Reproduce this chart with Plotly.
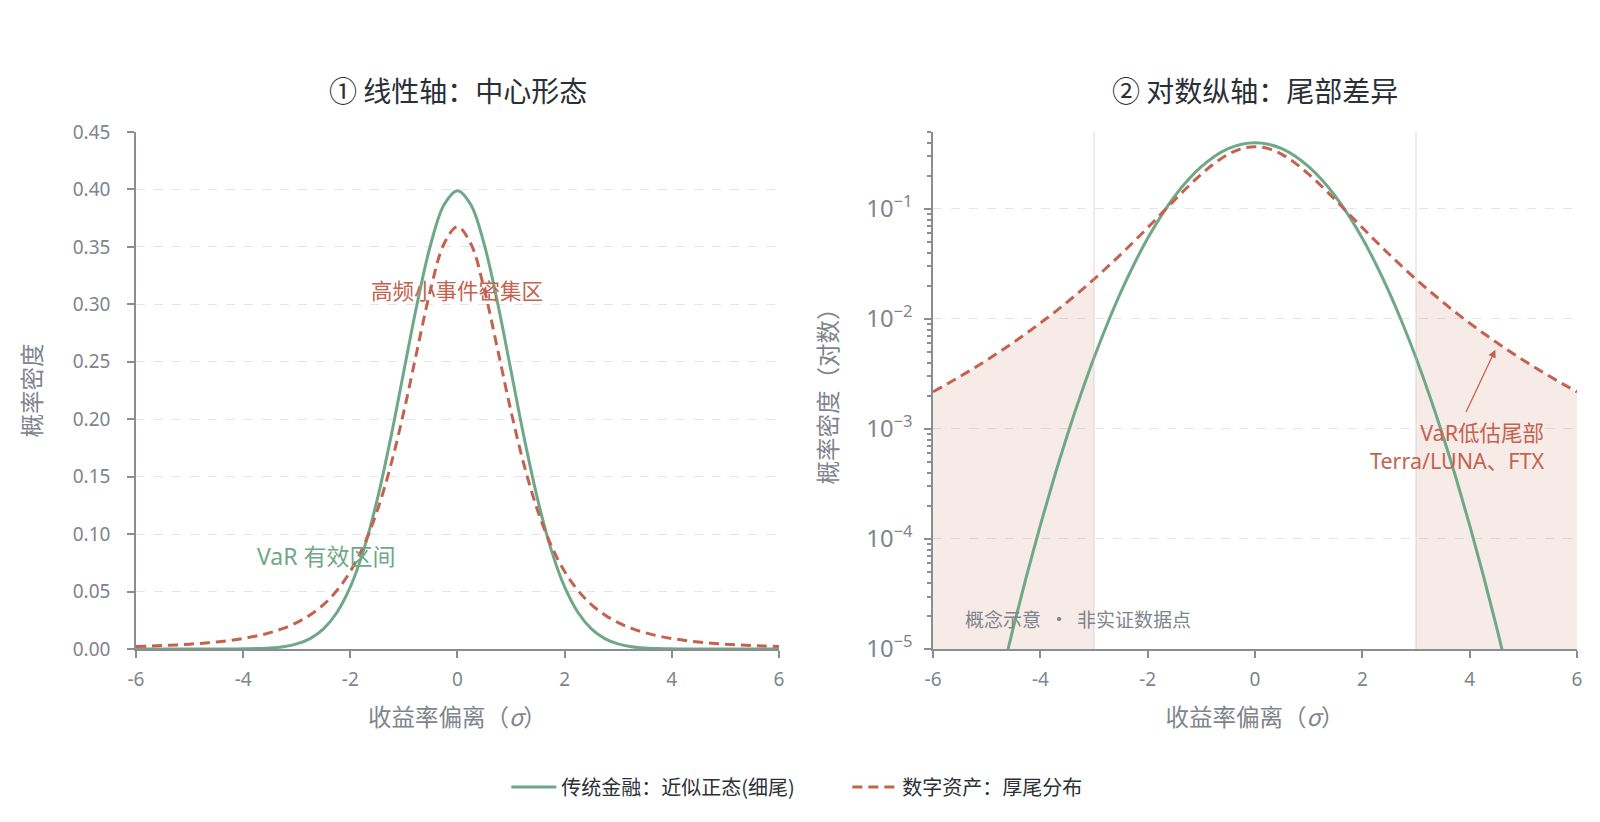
import plotly.graph_objects as go

# return deviation grid (sigma units)
x_sigma = [-6.0, -5.75, -5.5, -5.25, -5.0, -4.75, -4.5, -4.25, -4.0, -3.75, -3.5, -3.25,
           -3.0, -2.75, -2.5, -2.25, -2.0, -1.75, -1.5, -1.25, -1.0, -0.75, -0.5, -0.25,
           0.0, 0.25, 0.5, 0.75, 1.0, 1.25, 1.5, 1.75, 2.0, 2.25, 2.5, 2.75,
           3.0, 3.25, 3.5, 3.75, 4.0, 4.25, 4.5, 4.75, 5.0, 5.25, 5.5, 5.75, 6.0]

# traditional finance: near-normal density (thin tails)
dens_trad = [6.08e-9, 2.64e-8, 1.077e-7, 4.13e-7, 1.487e-6, 5.03e-6, 1.598e-5, 4.771e-5,
             1.3383e-4, 3.526e-4, 8.727e-4, 2.029e-3, 4.432e-3, 9.094e-3, 0.01753, 0.03174,
             0.05399, 0.08628, 0.12952, 0.18265, 0.24197, 0.30114, 0.35207, 0.38667,
             0.39894,
             0.38667, 0.35207, 0.30114, 0.24197, 0.18265, 0.12952, 0.08628, 0.05399,
             0.03174, 0.01753, 9.094e-3, 4.432e-3, 2.029e-3, 8.727e-4, 3.526e-4, 1.3383e-4,
             4.771e-5, 1.598e-5, 5.03e-6, 1.487e-6, 4.13e-7, 1.077e-7, 2.64e-8, 6.08e-9]

# digital assets: fat-tailed density
dens_crypto = [0.002175, 0.002544, 0.002992, 0.003542, 0.004219, 0.005062, 0.006120, 0.007457,
               0.009163, 0.01136, 0.01422, 0.01798, 0.02297, 0.02965, 0.03866, 0.05089,
               0.06751, 0.09000, 0.12002, 0.15891, 0.20675, 0.26064, 0.31318, 0.35270,
               0.36755,
               0.35270, 0.31318, 0.26064, 0.20675, 0.15891, 0.12002, 0.09000, 0.06751,
               0.05089, 0.03866, 0.02965, 0.02297, 0.01798, 0.01422, 0.01136, 0.009163,
               0.007457, 0.006120, 0.005062, 0.004219, 0.003542, 0.002992, 0.002544, 0.002175]

x_ticks = [-6, -4, -2, 0, 2, 4, 6]
x_tick_text = ["-6", "-4", "-2", "0", "2", "4", "6"]
lin_ticks = [0.0, 0.05, 0.10, 0.15, 0.20, 0.25, 0.30, 0.35, 0.40, 0.45]
lin_tick_text = ["0.00", "0.05", "0.10", "0.15", "0.20", "0.25", "0.30", "0.35", "0.40", "0.45"]
tail_cut = 3.0

GREEN = "#6fa887"
RED = "#c3634f"
GRAY = "#80848c"
DARK = "#2b2f36"
FONT = "Noto Sans, Noto Sans CJK SC"
CJK = "Noto Sans CJK SC"

fig = go.Figure()

# shaded tails (right panel)
left_tail = [(x, y) for x, y in zip(x_sigma, dens_crypto) if x <= -tail_cut]
right_tail = [(x, y) for x, y in zip(x_sigma, dens_crypto) if x >= tail_cut]
for tail in (left_tail, right_tail):
    fig.add_trace(go.Scatter(
        x=[p[0] for p in tail], y=[p[1] for p in tail],
        mode="lines", line=dict(width=0, shape="spline"),
        fill="tozeroy", fillcolor="rgba(195,99,79,0.13)",
        xaxis="x2", yaxis="y2", showlegend=False, hoverinfo="skip"))

# curves on both panels
for xa, ya, show in (("x", "y", True), ("x2", "y2", False)):
    fig.add_trace(go.Scatter(
        x=x_sigma, y=dens_trad, mode="lines",
        line=dict(color=GREEN, width=3, shape="spline"),
        name="传统金融：近似正态(细尾)", xaxis=xa, yaxis=ya,
        showlegend=show, legendgroup="trad"))
    fig.add_trace(go.Scatter(
        x=x_sigma, y=dens_crypto, mode="lines",
        line=dict(color=RED, width=3, dash="10px,6px", shape="spline"),
        name="数字资产：厚尾分布", xaxis=xa, yaxis=ya,
        showlegend=show, legendgroup="crypto"))

axis_common = dict(
    showline=True, linecolor="#8a8d93", linewidth=1.5,
    ticks="outside", ticklen=7, tickwidth=1.5, tickcolor="#8a8d93",
    tickfont=dict(family=FONT, size=19, color=GRAY),
    zeroline=False, mirror=False, automargin=False,
)
x_title = dict(text="收益率偏离（<i>σ</i>）", font=dict(family=CJK, size=23.5, color=GRAY), standoff=19)

# page body keeps an 8px margin, so the figure is sized to fit the window
fig.update_layout(
    width=1584, height=806,
    paper_bgcolor="white", plot_bgcolor="white",
    margin=dict(l=0, r=0, t=0, b=0),
    font=dict(family=FONT, color=GRAY),
    xaxis=dict(domain=[0.0808, 0.4867], range=[-6, 6], tickvals=x_ticks, ticktext=x_tick_text,
               showgrid=False, anchor="y", title=x_title, ticklabelstandoff=5, **axis_common),
    yaxis=dict(domain=[0.2047, 0.8462], range=[0, 0.45], tickvals=lin_ticks, ticktext=lin_tick_text,
               showgrid=True, gridcolor="#e3e5e8", griddash="dash", gridwidth=1, anchor="x",
               ticklabelstandoff=13,
               title=dict(text="概率密度", font=dict(family=CJK, size=23.5, color=GRAY), standoff=25),
               **axis_common),
    xaxis2=dict(domain=[0.584, 0.9905], range=[-6, 6], tickvals=x_ticks, ticktext=x_tick_text,
                showgrid=False, anchor="y2", title=x_title, ticklabelstandoff=5, **axis_common),
    yaxis2=dict(domain=[0.2047, 0.8462], type="log", range=[-5, -0.301], dtick=1,
                exponentformat="power", ticklabelstandoff=8,
                minor=dict(ticks="outside", ticklen=4, tickcolor="#8a8d93", showgrid=False),
                showgrid=True, gridcolor="#e3e5e8", griddash="dash", gridwidth=1, anchor="x2",
                title=dict(text="概率密度（对数）", font=dict(family=CJK, size=23.5, color=GRAY), standoff=22),
                **axis_common),
    legend=dict(orientation="h", x=0.3146, xanchor="left", y=0.0335, yanchor="middle",
                font=dict(family=CJK, size=20, color=DARK), itemwidth=45,
                entrywidth=281, entrywidthmode="pixels",
                bgcolor="rgba(0,0,0,0)"),
)

# tail boundary lines
for xv in (-tail_cut, tail_cut):
    fig.add_shape(type="line", xref="x2", yref="y2 domain", x0=xv, x1=xv, y0=0, y1=1,
                  line=dict(color="rgba(200,185,185,0.45)", width=1.2))

# panel titles
fig.add_annotation(text="① 线性轴：中心形态", xref="paper", yref="paper", x=0.2838, y=0.8983,
                   xanchor="center", yanchor="middle", showarrow=False,
                   font=dict(family=CJK, size=28, color=DARK))
fig.add_annotation(text="② 对数纵轴：尾部差异", xref="paper", yref="paper", x=0.7873, y=0.8983,
                   xanchor="center", yanchor="middle", showarrow=False,
                   font=dict(family=CJK, size=28, color=DARK))

# left panel notes
fig.add_annotation(text="高频小事件密集区", xref="x", yref="y", x=0, y=0.313,
                   showarrow=False, font=dict(family=CJK, size=21.5, color=RED))
fig.add_annotation(text="VaR 有效区间", xref="x", yref="y", x=-2.45, y=0.081,
                   showarrow=False, font=dict(family=FONT, size=23, color=GREEN))

# right panel notes (log axis: annotation y in log10 units)
fig.add_annotation(x=4.48, y=-2.28, ax=3.92, ay=-2.86, xref="x2", yref="y2",
                   axref="x2", ayref="y2", text="", showarrow=True,
                   arrowhead=2, arrowsize=1.2, arrowwidth=1.3, arrowcolor=RED)
fig.add_annotation(text="VaR低估尾部<br>Terra/LUNA、FTX", xref="x2", yref="y2",
                   x=5.43, y=-3.157, xanchor="right", yanchor="middle", align="right",
                   showarrow=False, font=dict(family=FONT, size=21.5, color=RED))
fig.add_annotation(text="概念示意  ·  非实证数据点", xref="x2", yref="y2", x=-5.45, y=-4.72,
                   xanchor="left", showarrow=False, font=dict(family=CJK, size=19, color=GRAY))

fig.write_html("out.html")
